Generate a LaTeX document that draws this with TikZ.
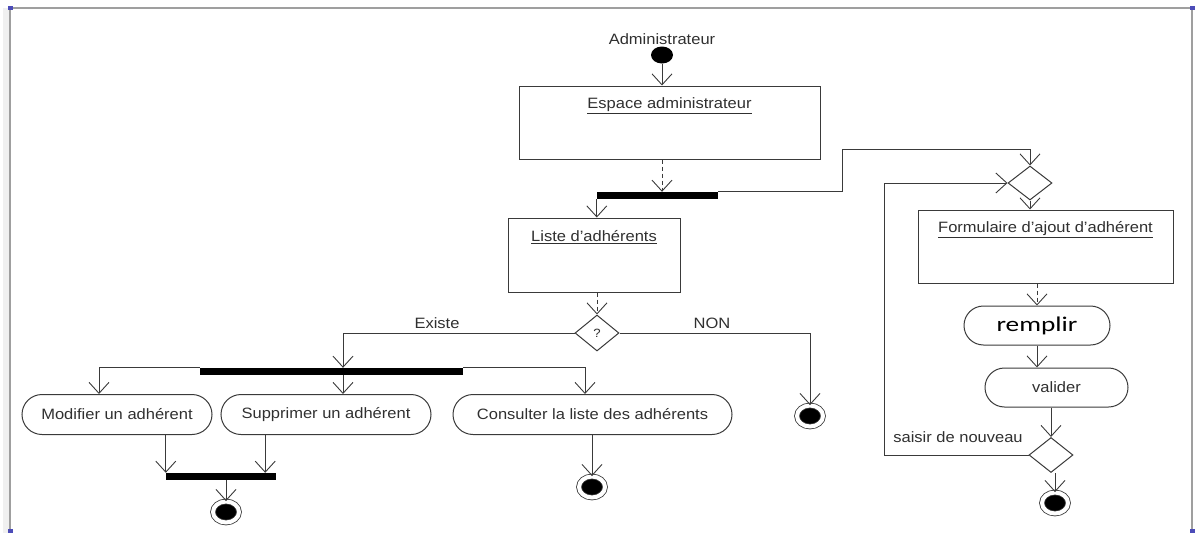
\documentclass[tikz,border=0pt]{standalone}
\usepackage{fontspec}
\setmainfont{Liberation Sans}[FakeStretch=1.1]
\newfontfamily\remplirfont{Carlito}[FakeStretch=1.3]
\usepackage{tikz}
\usetikzlibrary{shapes.geometric, shapes.misc, arrows.meta}
\definecolor{trait}{HTML}{3A3A3A}
\definecolor{texte}{HTML}{303030}
\tikzstyle{arrow} = [draw=trait, line width=0.9pt, -{Straight Barb[length=11pt,width=20pt]}]
\tikzstyle{activite} = [rectangle, draw=trait, line width=1pt, fill=white, inner sep=0pt]
\tikzstyle{etat} = [rounded rectangle, draw=trait, line width=1pt, minimum height=40pt, inner sep=0pt]
\tikzstyle{barre} = [rectangle, fill=black, minimum height=7pt, inner sep=0pt]
\tikzstyle{choix} = [diamond, draw=trait, line width=1pt, fill=white, inner sep=0pt]
\tikzstyle{debut} = [ellipse, fill=black, minimum width=22pt, minimum height=17pt, inner sep=0pt]
\tikzstyle{fin} = [ellipse, draw=trait, fill=black, line width=0.8pt, double=white, double distance=4pt, minimum width=26pt, minimum height=21pt, inner sep=0pt]

\begin{document}
\begin{tikzpicture}[x=1pt, y=-1pt, font=\fontsize{15}{18}\selectfont, text=texte]
\useasboundingbox (0,0) rectangle (1195,533);
\fill[gray!12] (3,8) rectangle (9,533);
\draw[gray!75, line width=1.6pt] (10,533) -- (10,8) -- (1192,8) -- (1192,533);
\foreach \px/\py in {10/8, 1192/8, 10/531, 1192/531}
  \fill[blue!60!black!70] (\px-2.5,\py-2) rectangle (\px+2.5,\py+2);

\node (admin) at (662,39) {Administrateur};
\node[debut] (debut) at (662,55) {};
\node[activite, minimum width=301pt, minimum height=73pt, label={[anchor=center,yshift=-20pt]north:\underline{Espace administrateur}}] (espace) at (669.5,122.5) {};
\node[barre, minimum width=121pt] (fork1) at (657.5,195.5) {};
\node[activite, minimum width=172pt, minimum height=74pt, label={[anchor=center,yshift=-20pt]north:\underline{Liste d'adhérents}}] (liste) at (594,255) {};
\node[choix, minimum width=44pt, minimum height=36pt, font=\fontsize{12}{14}\selectfont] (question) at (597,333) {?};
\node (existe) at (437,323) {Existe};
\node (non) at (712,323) {NON};

\node[barre, minimum width=263pt] (fork2) at (331.5,371.5) {};
\node[etat, minimum width=190pt] (modifier) at (117,414.5) {Modifier un adhérent};
\node[etat, minimum width=210pt] (supprimer) at (326,414.5) {Supprimer un adhérent};
\node[etat, minimum width=279pt] (consulter) at (592.5,414.5) {Consulter la liste des adhérents};
\node[barre, minimum width=110pt] (jonction) at (221,476.5) {};
\node[fin] (finA) at (226,512) {};
\node[fin] (finB) at (592,487) {};
\node[fin] (finNon) at (810,416) {};

\node[choix, minimum width=44pt, minimum height=34pt] (fusion) at (1030,183) {};
\node[activite, minimum width=255pt, minimum height=73pt, label={[anchor=center,yshift=-20pt]north:\underline{Formulaire d'ajout d'adhérent}}] (formulaire) at (1045.5,246.5) {};
\node[etat, minimum width=146pt, minimum height=39pt, font=\remplirfont\fontsize{21}{24}\selectfont, text=black] (remplir) at (1037,325.5) {remplir};
\node[etat, minimum width=143pt, minimum height=39pt] (valider) at (1056.5,387.5) {valider};
\node[choix, minimum width=44pt, minimum height=35pt] (decision) at (1051,455) {};
\node (saisir) at (958,437) {saisir de nouveau};
\node[fin] (finC) at (1055,503) {};

\coordinate (e1) at ([xshift=11.5pt]fork2.north);
\coordinate (e2) at ([xshift=11.5pt]fork2.south);
\coordinate (m1) at ([xshift=-18pt]modifier.north);
\coordinate (c1) at ([xshift=-7.5pt]consulter.north);
\coordinate (j1) at (jonction.north west);
\coordinate (j2) at ([xshift=-11pt]jonction.north east);

\draw[arrow] (debut.south) -- (espace.north -| debut);
\draw[arrow, dash pattern=on 4pt off 3pt] (espace.south -| debut) -- (fork1.north -| debut);
\draw[arrow] (fork1.south west) -- (fork1.south west |- liste.north);
\draw[arrow] (fork1.north east) -- ++(124,0) -- ++(0,-42) -| (fusion.north);
\draw[arrow, dash pattern=on 4pt off 3pt] (question.north |- liste.south) -- (question.north);
\draw[arrow] (question.west) -| (e1);
\draw[arrow] (question.east) -| (finNon.north);
\draw[arrow] (fork2.north west) -| (m1);
\draw[arrow] (e2) -- (e2 |- supprimer.north);
\draw[arrow] (fork2.north east) -| (c1);
\draw[arrow] (modifier.south -| j1) -- (j1);
\draw[arrow] (supprimer.south -| j2) -- (j2);
\draw[arrow] (jonction.south -| finA) -- (finA.north);
\draw[arrow] (consulter.south -| finB) -- (finB.north);
\draw[arrow] (fusion.south) -- (fusion.south |- formulaire.north);
\draw[arrow, dash pattern=on 4pt off 3pt] (remplir.north |- formulaire.south) -- (remplir.north);
\draw[arrow] (remplir.south) -- (remplir.south |- valider.north);
\draw[arrow] (valider.south -| decision) -- (decision.north);
\draw[arrow] (decision.west) -- ++(-144,0) |- (fusion.west);
\draw[arrow] (decision.south -| finC) -- (finC.north);
\end{tikzpicture}
\end{document}
